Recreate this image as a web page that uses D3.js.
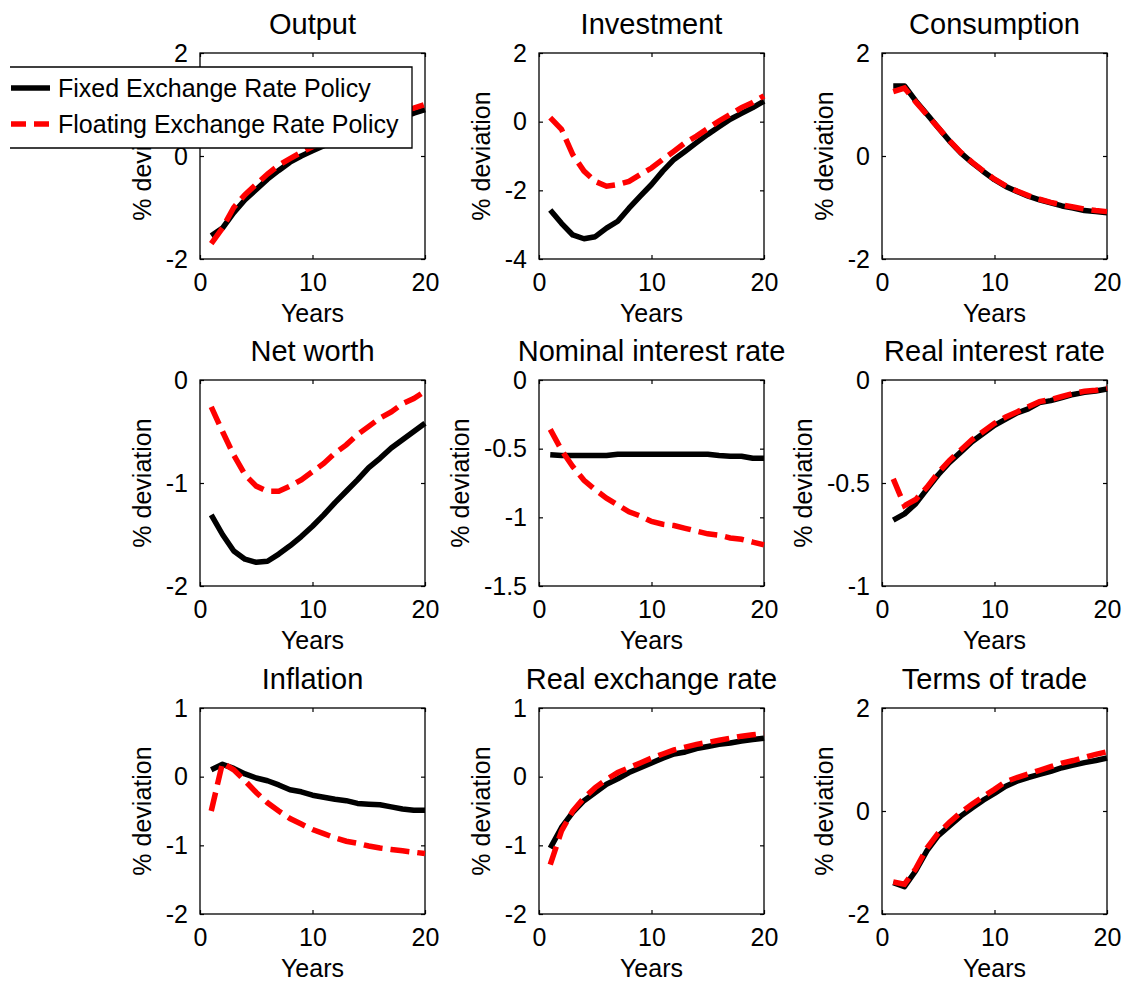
<!DOCTYPE html>
<html lang="en">
<head>
    <meta charset="UTF-8"/>
    <title>Impulse responses: fixed vs floating</title>
    <script src="https://cdnjs.cloudflare.com/ajax/libs/d3/7.8.5/d3.min.js"></script>
    <style>
        body { margin: 0; background: #fff; }
        text { font-family: Arial, "Liberation Sans", sans-serif; fill: #000; }
    </style>
</head>
<body>
<div id="chart"></div>
<script>
    // horizon (years)
    const years = d3.range(1, 21);

    // panel titles and y-axis ticks
    const titles = ["Output", "Investment", "Consumption",
        "Net worth", "Nominal interest rate", "Real interest rate",
        "Inflation", "Real exchange rate", "Terms of trade"];
    const yTicks = [[-2, 0, 2], [-4, -2, 0, 2], [-2, 0, 2],
        [-2, -1, 0], [-1.5, -1, -0.5, 0], [-1, -0.5, 0],
        [-2, -1, 0, 1], [-2, -1, 0, 1], [-2, 0, 2]];
    const xTicks = [0, 10, 20];

    // series: fixed (black) and floating (red) policy
    const outputFixed = [-1.55, -1.4, -1.1, -0.85, -0.65, -0.45, -0.28, -0.12, 0.0, 0.1, 0.2, 0.3, 0.4, 0.48, 0.56, 0.63, 0.7, 0.77, 0.83, 0.9];
    const outputFloat = [-1.7, -1.4, -1.0, -0.75, -0.55, -0.35, -0.18, -0.05, 0.07, 0.18, 0.28, 0.38, 0.47, 0.56, 0.64, 0.72, 0.8, 0.87, 0.93, 1.0];
    const investmentFixed = [-2.57, -2.96, -3.3, -3.41, -3.35, -3.1, -2.9, -2.52, -2.17, -1.83, -1.44, -1.1, -0.86, -0.61, -0.37, -0.15, 0.07, 0.24, 0.41, 0.6];
    const investmentFloat = [0.12, -0.22, -0.96, -1.44, -1.74, -1.88, -1.83, -1.74, -1.54, -1.35, -1.1, -0.86, -0.61, -0.42, -0.2, 0.02, 0.21, 0.41, 0.56, 0.75];
    const consumptionFixed = [1.36, 1.36, 1.07, 0.81, 0.55, 0.29, 0.06, -0.13, -0.3, -0.46, -0.59, -0.69, -0.78, -0.85, -0.91, -0.97, -1.01, -1.06, -1.08, -1.1];
    const consumptionFloat = [1.25, 1.32, 1.05, 0.8, 0.55, 0.3, 0.07, -0.12, -0.29, -0.45, -0.58, -0.68, -0.77, -0.84, -0.9, -0.95, -0.99, -1.03, -1.06, -1.08];
    const netWorthFixed = [-1.31, -1.5, -1.66, -1.74, -1.77, -1.76, -1.69, -1.61, -1.52, -1.42, -1.31, -1.19, -1.08, -0.97, -0.85, -0.76, -0.66, -0.58, -0.5, -0.42];
    const netWorthFloat = [-0.26, -0.5, -0.73, -0.92, -1.03, -1.08, -1.08, -1.03, -0.97, -0.89, -0.81, -0.71, -0.63, -0.53, -0.45, -0.37, -0.31, -0.23, -0.18, -0.11];
    const nominalFixed = [-0.545, -0.55, -0.55, -0.55, -0.55, -0.55, -0.54, -0.54, -0.54, -0.54, -0.54, -0.54, -0.54, -0.54, -0.54, -0.55, -0.555, -0.555, -0.57, -0.57];
    const nominalFloat = [-0.36, -0.51, -0.63, -0.73, -0.8, -0.86, -0.91, -0.96, -0.99, -1.03, -1.05, -1.06, -1.08, -1.1, -1.12, -1.13, -1.15, -1.16, -1.18, -1.2];
    const realRateFixed = [-0.68, -0.65, -0.6, -0.53, -0.46, -0.4, -0.35, -0.3, -0.26, -0.22, -0.19, -0.16, -0.14, -0.11, -0.1, -0.085, -0.07, -0.06, -0.053, -0.044];
    const realRateFloat = [-0.48, -0.61, -0.58, -0.52, -0.45, -0.39, -0.34, -0.29, -0.25, -0.21, -0.18, -0.155, -0.13, -0.105, -0.095, -0.08, -0.065, -0.055, -0.05, -0.04];
    const inflationFixed = [0.1, 0.18, 0.12, 0.04, -0.02, -0.06, -0.12, -0.19, -0.22, -0.27, -0.3, -0.33, -0.35, -0.39, -0.4, -0.41, -0.44, -0.47, -0.49, -0.49];
    const inflationFloat = [-0.5, 0.2, 0.1, -0.06, -0.23, -0.38, -0.5, -0.61, -0.69, -0.77, -0.83, -0.89, -0.94, -0.97, -1.01, -1.04, -1.06, -1.08, -1.1, -1.12];
    const rerFixed = [-1.04, -0.74, -0.52, -0.35, -0.23, -0.11, -0.03, 0.06, 0.13, 0.2, 0.27, 0.33, 0.36, 0.41, 0.44, 0.47, 0.49, 0.52, 0.54, 0.56];
    const rerFloat = [-1.28, -0.79, -0.5, -0.31, -0.16, -0.04, 0.06, 0.13, 0.2, 0.27, 0.33, 0.39, 0.43, 0.47, 0.5, 0.53, 0.56, 0.59, 0.61, 0.63];
    const totFixed = [-1.39, -1.47, -1.16, -0.77, -0.48, -0.29, -0.1, 0.06, 0.21, 0.34, 0.48, 0.58, 0.65, 0.71, 0.77, 0.84, 0.89, 0.94, 0.98, 1.03];
    const totFloat = [-1.38, -1.42, -1.12, -0.72, -0.43, -0.22, -0.03, 0.13, 0.28, 0.42, 0.57, 0.65, 0.72, 0.79, 0.86, 0.93, 0.98, 1.04, 1.1, 1.15];

    const fixedSeries = [outputFixed, investmentFixed, consumptionFixed, netWorthFixed, nominalFixed,
        realRateFixed, inflationFixed, rerFixed, totFixed];
    const floatSeries = [outputFloat, investmentFloat, consumptionFloat, netWorthFloat, nominalFloat,
        realRateFloat, inflationFloat, rerFloat, totFloat];

    const legendLabels = ["Fixed Exchange Rate Policy", "Floating Exchange Rate Policy"];

    // layout of the 3x3 grid
    const W = 1125, H = 982;
    const colLeft = [200, 539, 882];
    const rowTop = [53, 380, 708];
    const pw = 225, ph = 206;
    const tickLen = 4;

    const svg = d3.select("#chart").append("svg")
        .attr("width", W)
        .attr("height", H);

    titles.forEach(function(title, i) {
        const r = Math.floor(i / 3), c = i % 3;
        const g = svg.append("g")
            .attr("transform", "translate(" + colLeft[c] + "," + rowTop[r] + ")");

        const yt = yTicks[i];
        const x = d3.scaleLinear().domain([0, 20]).range([0, pw]);
        const y = d3.scaleLinear().domain([yt[0], yt[yt.length - 1]]).range([ph, 0]);

        // frame
        g.append("rect")
            .attr("width", pw).attr("height", ph)
            .attr("fill", "#fff").attr("stroke", "#000").attr("stroke-width", 1.3);

        // ticks on all four sides, pointing inward
        g.append("g")
            .attr("transform", "translate(0," + ph + ")")
            .call(d3.axisBottom(x).tickValues(xTicks).tickSizeInner(-tickLen).tickSizeOuter(0).tickPadding(14))
            .call(function(a) { a.select(".domain").remove(); });
        g.append("g")
            .call(d3.axisTop(x).tickValues(xTicks).tickSizeInner(-tickLen).tickSizeOuter(0).tickFormat(""))
            .call(function(a) { a.select(".domain").remove(); });
        const yAxis = g.append("g")
            .call(d3.axisLeft(y).tickValues(yt).tickSizeInner(-tickLen).tickSizeOuter(0).tickPadding(12)
                .tickFormat(function(d) { return String(d); }))
            .call(function(a) { a.select(".domain").remove(); });
        g.append("g")
            .attr("transform", "translate(" + pw + ",0)")
            .call(d3.axisRight(y).tickValues(yt).tickSizeInner(-tickLen).tickSizeOuter(0).tickFormat(""))
            .call(function(a) { a.select(".domain").remove(); });

        g.selectAll(".tick line").attr("stroke", "#000").attr("stroke-width", 1.2);
        g.selectAll(".tick text")
            .style("font-family", "Arial, 'Liberation Sans', sans-serif")
            .style("font-size", "25px")
            .attr("fill", "#000");

        // lines
        const line = d3.line()
            .x(function(d, k) { return x(years[k]); })
            .y(function(d) { return y(d); });

        g.append("path")
            .datum(fixedSeries[i])
            .attr("fill", "none")
            .attr("stroke", "#000")
            .attr("stroke-width", 5.5)
            .attr("stroke-linejoin", "round")
            .attr("d", line);

        g.append("path")
            .datum(floatSeries[i])
            .attr("fill", "none")
            .attr("stroke", "#ff0000")
            .attr("stroke-width", 5.5)
            .attr("stroke-dasharray", "19,8")
            .attr("d", line);

        // title and axis labels
        g.append("text")
            .attr("x", pw / 2).attr("y", -19)
            .attr("text-anchor", "middle")
            .style("font-size", "29px")
            .text(title);
        g.append("text")
            .attr("x", pw / 2).attr("y", ph + 63)
            .attr("text-anchor", "middle")
            .style("font-size", "25px")
            .text("Years");

        // y label sits just left of the widest tick label
        let minX = 0;
        yAxis.selectAll(".tick text").each(function() {
            minX = Math.min(minX, this.getBBox().x);
        });
        g.append("text")
            .attr("transform", "translate(" + (minX - 24) + "," + (ph / 2) + ") rotate(-90)")
            .attr("dy", "0.35em")
            .attr("text-anchor", "middle")
            .style("font-size", "25px")
            .text("% deviation");
    });

    // legend, drawn over the Output panel
    const lg = svg.append("g");
    const lx0 = 10, lx1 = 412, ly0 = 67, ly1 = 148;
    lg.append("rect")
        .attr("x", lx0).attr("y", ly0)
        .attr("width", lx1 - lx0).attr("height", ly1 - ly0)
        .attr("fill", "#fff");
    lg.append("path")
        .attr("d", "M" + lx0 + "," + ly0 + "H" + lx1 + "V" + ly1 + "H" + lx0)
        .attr("fill", "none").attr("stroke", "#000").attr("stroke-width", 1.3);

    const legendRows = [88, 124];
    legendLabels.forEach(function(label, k) {
        lg.append("line")
            .attr("x1", 11).attr("x2", 50)
            .attr("y1", legendRows[k]).attr("y2", legendRows[k])
            .attr("stroke", k === 0 ? "#000" : "#ff0000")
            .attr("stroke-width", 5.5)
            .attr("stroke-dasharray", k === 0 ? null : "15,8");
        lg.append("text")
            .attr("x", 58).attr("y", legendRows[k])
            .attr("dy", "0.35em")
            .style("font-size", "25px")
            .text(label);
    });
</script>
</body>
</html>
